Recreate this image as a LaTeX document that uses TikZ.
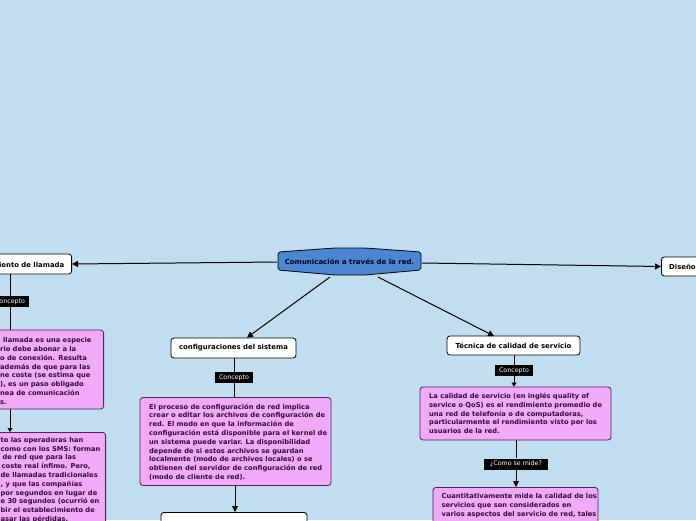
\documentclass[tikz,border=0pt]{standalone}
\usepackage{fontspec}
\setmainfont{DejaVu Sans}
\usetikzlibrary{arrows.meta}
\definecolor{bg}{RGB}{193,222,241}
\definecolor{pinkf}{RGB}{241,170,247}
\definecolor{pinkd}{RGB}{85,30,95}
\definecolor{cblue}{RGB}{74,134,210}
\definecolor{txt}{RGB}{50,12,60}
\begin{document}
\begin{tikzpicture}[x=1pt,y=-1pt,
  topic/.style={draw=black, fill=white, rounded corners=3pt, line width=0.8pt,
    minimum height=20pt, inner sep=0pt, font=\bfseries\fontsize{6.9}{8}\selectfont},
  pinkbox/.style={draw=pinkd, fill=pinkf, rounded corners=3pt, line width=0.8pt,
    inner xsep=8.5pt, inner ysep=4pt, align=left, text=txt,
    font=\bfseries\fontsize{6.7}{8.8}\selectfont},
  pinktext/.style={inner sep=0pt, align=left, text=txt,
    font=\bfseries\fontsize{6.7}{8.8}\selectfont},
  lab/.style={fill=black, text=white, inner xsep=3pt, inner ysep=2pt,
    minimum height=11pt, font=\fontsize{6.3}{7}\selectfont},
  conn/.style={draw=black, line width=1pt},
  arr/.style={conn, -{Triangle[length=6pt,width=6pt]}},
  sarr/.style={conn, -{Triangle[length=4pt,width=5pt]}}
]
\useasboundingbox (0,0) rectangle (696,520);
\fill[bg] (0,0) rectangle (696,520);
\clip (0,0) rectangle (696,520);

% central topic
\draw[fill=cblue, draw=black, line width=0.8pt, rounded corners=2pt]
  (278,252) -- (335,248) -- (365,248) -- (421,252) -- (421,270)
  -- (365,275) -- (335,275) -- (278,270) -- cycle;
\node[inner sep=0pt, font=\bfseries\fontsize{7}{8}\selectfont, text=black!85!blue]
  (center) at (349.5,261.5) {Comunicación a través de la red.};
\coordinate (cL) at (277,262);
\coordinate (cR) at (422,263);
\coordinate (cBL) at (330,277);
\coordinate (cBR) at (378,277);

% left branch
\node[topic, minimum width=140pt, anchor=east] (lnode) at (72,264) {};
\node[inner sep=0pt, anchor=east, font=\bfseries\fontsize{6.9}{8}\selectfont] (ltext) at (64.5,264.5) {imiento de llamada};
\node[lab, minimum width=38pt] (lab1) at (10,301.5) {Concepto};
\node[draw=pinkd, fill=pinkf, rounded corners=3pt, line width=0.8pt,
  minimum width=150pt, minimum height=79pt, anchor=east] (box1) at (104,369.5) {};
\node[pinktext, anchor=west] (box1t) at (0,371) {\hspace{3pt}llamada es una especie\\
rio debe abonar a la\\
o de conexión. Resulta\\
además de que para las\\
ne coste (se estima que\\
), es un paso obligado\\
nea de comunicación\\
s.};
\node[draw=pinkd, fill=pinkf, rounded corners=3pt, line width=0.8pt,
  minimum width=150pt, minimum height=110pt, anchor=north east] (box2) at (106,432) {};
\node[pinktext, anchor=north west] (box2t) at (0.5,437) {to las operadoras han\\
como con los SMS: forman\\
\hspace{2pt}de red que para las\\
\hspace{1pt}coste real ínfimo. Pero,\\
de llamadas tradicionales\\
, y que las compañías\\
por segundos en lugar de\\
e 30 segundos (ocurrió en\\
bir el establecimiento de\\
asar las pérdidas.};

\draw[arr] (cL) -- (lnode.east);
\draw[conn] (lnode.south -| lab1) -- (lab1.north);
\draw[conn] (lab1.south) -- (lab1 |- box1.north);
\draw[sarr] (box1.south -| lab1) -- (lab1 |- box2.north);

% configuraciones del sistema
\node[topic, minimum width=125pt] (conf) at (233.5,348) {configuraciones del sistema};
\node[lab, minimum width=38pt] (lab2) at (234,377.5) {Concepto};
\node[draw=pinkd, fill=pinkf, rounded corners=3pt, line width=0.8pt,
  minimum width=191pt, minimum height=88pt] (box3) at (235.5,441.5) {};
\node[pinktext, anchor=north west] (box3t) at (149,403.5) {El proceso de configuración de red implica\\
crear o editar los archivos de configuración de\\
red. El modo en que la información de\\
configuración está disponible para el kernel de\\
un sistema puede variar. La disponibilidad\\
depende de si estos archivos se guardan\\
localmente (modo de archivos locales) o se\\
obtienen del servidor de configuración de red\\
(modo de cliente de red).};
\node[topic, minimum width=146pt, anchor=north] (conf2) at (234,512) {};

\draw[arr] (cBL) -- (conf.north east -| 247,0);
\draw[conn] (conf.south -| lab2) -- (lab2.north);
\draw[conn] (lab2.south) -- (lab2 |- box3.north);
\draw[arr] (box3.south -| 235,0) -- (235,512);

% Tecnica de calidad de servicio
\node[topic, minimum width=133pt, minimum height=19pt] (qos) at (513.5,345.5) {Técnica de calidad de servicio};
\node[lab, minimum width=38pt] (lab3) at (514,370.5) {Concepto};
\node[draw=pinkd, fill=pinkf, rounded corners=3pt, line width=0.8pt,
  minimum width=191pt, minimum height=53pt] (box4) at (515.5,413.5) {};
\node[pinktext, anchor=north west] (box4t) at (429,393) {La calidad de servicio (en inglés quality of\\
service o QoS) es el rendimiento promedio de\\
una red de telefonía o de computadoras,\\
particularmente el rendimiento visto por los\\
usuarios de la red.};
\node[lab, minimum width=64pt] (lab4) at (516,464) {¿Como se mide?};
\node[draw=pinkd, fill=pinkf, rounded corners=3pt, line width=0.8pt,
  minimum width=165pt, minimum height=60pt, anchor=north] (box5) at (515.5,487) {};
\node[pinktext, anchor=north west] (box5t) at (441.5,493.5) {Cuantitativamente mide la calidad de los\\
servicios que son considerados en\\
varios aspectos del servicio de red, tales};

\draw[arr] (cBR) -- (494,336);
\draw[conn] (qos.south -| lab3) -- (lab3.north);
\draw[sarr] (lab3.south) -- (lab3 |- box4.north);
\draw[conn] (box4.south -| lab4) -- (lab4.north);
\draw[arr] (lab4.south) -- (lab4 |- box5.north);

% right branch
\node[topic, minimum width=100pt, minimum height=19pt, anchor=west] (rnode) at (661,266.5) {};
\node[inner sep=0pt, anchor=west, font=\bfseries\fontsize{6.9}{8}\selectfont] (rtext) at (669,267) {Diseño de la red};
\draw[arr] (cR) -- (rnode.west);
\end{tikzpicture}
\end{document}
